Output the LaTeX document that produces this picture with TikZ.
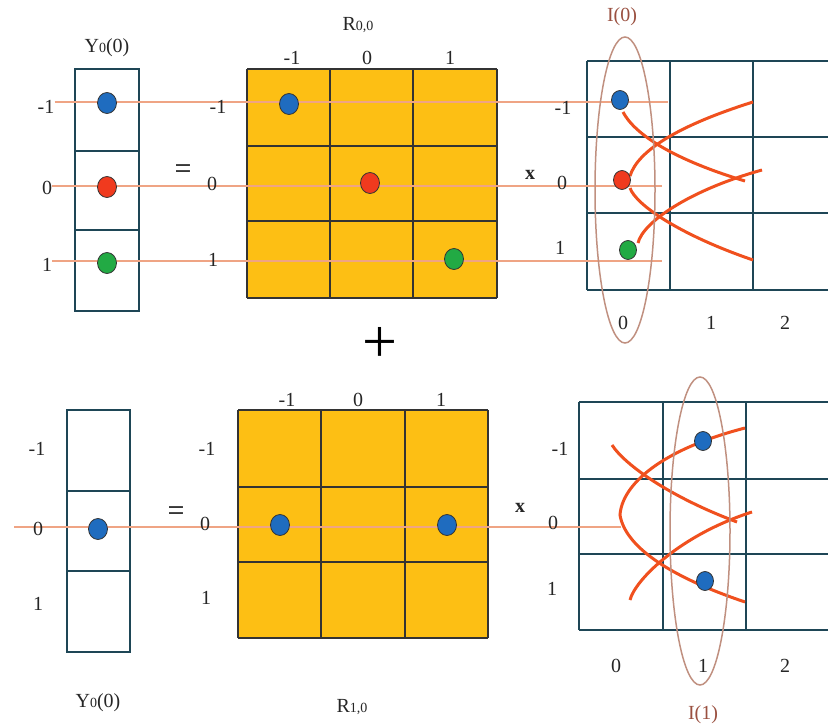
\documentclass[tikz,border=0pt]{standalone}
\usepackage{fontspec}
\setmainfont{Liberation Serif}
\usetikzlibrary{shapes.geometric}
\definecolor{gold}{HTML}{FDBF14}
\definecolor{salmon}{HTML}{EFA484}
\definecolor{curvec}{HTML}{F0501E}
\definecolor{gridc}{HTML}{1E4656}
\definecolor{ellc}{HTML}{C09080}
\definecolor{dblue}{HTML}{1F6CBF}
\definecolor{dred}{HTML}{F03A1E}
\definecolor{dgreen}{HTML}{22AA44}
\definecolor{lblc}{HTML}{9A5040}
\newcommand{\smallsub}[1]{{\fontsize{14}{14}\selectfont #1}}
\begin{document}
\begin{tikzpicture}[x=1pt,y=-1pt,
 lab/.style={font=\fontsize{20}{22}\selectfont, inner sep=0pt, text=black!85},
 dotn/.style={ellipse, draw=black!80, line width=0.8pt, minimum width=19pt, minimum height=21pt, inner sep=0pt},
 sdot/.style={dotn, minimum width=17pt, minimum height=19pt},
 hline/.style={salmon, line width=2pt},
 crv/.style={curvec, line width=3pt},
 gl/.style={gridc, line width=1.5pt},
 ml/.style={black!80, line width=1.2pt},
 ell/.style={ellc, line width=1.5pt}]
\useasboundingbox (0,0) rectangle (828,728);

% ================= TOP =================
\draw[gl] (75,69) rectangle (139,311);
\draw[gl] (75,151) -- (139,151);
\draw[gl] (75,230) -- (139,230);
\node[lab] (ty) at (107,48) {Y\smallsub{0}(0)};
\node[lab] (tl1) at (46,107) {-1};
\node[lab] (tl2) at (47,188) {0};
\node[lab] (tl3) at (47,265) {1};
\fill[gold] (247,69) rectangle (497,298);
\foreach \xx in {247,330,413,497} \draw[ml] (\xx,69) -- (\xx,298);
\foreach \yy in {69,146,221,298} \draw[ml] (247,\yy) -- (497,\yy);
\node[lab] (tr) at (358,25) {R\smallsub{0,0}};
\node[lab] (tc1) at (292,58) {-1};
\node[lab] (tc2) at (367,58) {0};
\node[lab] (tc3) at (450,58) {1};
\foreach \xx in {587,670,753} \draw[gl] (\xx,61) -- (\xx,290);
\foreach \yy in {61,137,213,290} \draw[gl] (587,\yy) -- (828,\yy);
\coordinate (te1) at (668,102);
\coordinate (te2) at (662,186);
\coordinate (te3) at (662,261);
\draw[hline] (tl1.east |- te1) -- (te1);
\draw[hline] (tl2.east |- te2) -- (te2);
\draw[hline] (tl3.east |- te3) -- (te3);
\node[lab] (tm1) at (218,107) {-1};
\node[lab] (tm2) at (212,184) {0};
\node[lab] (tm3) at (213,260) {1};
\node[font=\fontsize{30}{30}\selectfont, inner sep=0pt] (teq) at (183,172) {=};
\node[lab, font=\fontsize{20}{22}\selectfont\bfseries] (tx) at (530,175) {x};
\node[lab] (tg1) at (563,108) {-1};
\node[lab] (tg2) at (562,183) {0};
\node[lab] (tg3) at (560,248) {1};
\node[lab] (tb0) at (623,323) {0};
\node[lab] (tb1) at (711,323) {1};
\node[lab] (tb2) at (785,323) {2};
\draw[crv] (623,112) .. controls (635,135) and (675,160) .. (745,181);
\draw[crv] (630,176) .. controls (638,150) and (680,125) .. (753,102);
\draw[crv] (630,188) .. controls (636,205) and (680,235) .. (753,260);
\draw[crv] (638,243) .. controls (643,222) and (690,190) .. (762,170);
\draw[ell] (625,190) ellipse [x radius=30pt, y radius=153pt];
\node[lab, text=lblc] (ti) at (622,17) {I(0)};
\node[dotn, fill=dblue] (ya) at (107,103) {};
\node[dotn, fill=dred] (yb) at (107,187) {};
\node[dotn, fill=dgreen] (yc) at (107,263) {};
\node[dotn, fill=dblue] (ma) at (289,104) {};
\node[dotn, fill=dred] (mb) at (370,183) {};
\node[dotn, fill=dgreen] (mc) at (454,259) {};
\node[sdot, fill=dblue] (ga) at (620,100) {};
\node[sdot, fill=dred] (gb) at (622,180) {};
\node[sdot, fill=dgreen] (gc) at (628,250) {};

\node[font=\fontsize{62}{62}\selectfont, inner sep=0pt] (plus) at (380,345) {+};

% ================= BOTTOM =================
\draw[gl] (67,410) rectangle (130,652);
\draw[gl] (67,491) -- (130,491);
\draw[gl] (67,571) -- (130,571);
\fill[gold] (238,410) rectangle (488,638);
\foreach \xx in {238,321,405,488} \draw[ml] (\xx,410) -- (\xx,638);
\foreach \yy in {410,487,562,638} \draw[ml] (238,\yy) -- (488,\yy);
\foreach \xx in {579,663,746} \draw[gl] (\xx,402) -- (\xx,630);
\foreach \yy in {402,479,554,630} \draw[gl] (579,\yy) -- (828,\yy);
\coordinate (bs) at (14,527);
\coordinate (be) at (621,527);
\draw[hline] (bs) -- (be);
\node[lab] (bl1) at (37,449) {-1};
\node[lab] (bl2) at (38,529) {0};
\node[lab] (bl3) at (38,604) {1};
\node[lab] (by) at (98,703) {Y\smallsub{0}(0)};
\node[font=\fontsize{30}{30}\selectfont, inner sep=0pt] (beq) at (176,514) {=};
\node[lab] (bm1) at (207,449) {-1};
\node[lab] (bm2) at (205,524) {0};
\node[lab] (bm3) at (206,598) {1};
\node[lab] (bc1) at (287,400) {-1};
\node[lab] (bc2) at (358,400) {0};
\node[lab] (bc3) at (441,400) {1};
\node[lab] (br) at (352,707) {R\smallsub{1,0}};
\node[lab, font=\fontsize{20}{22}\selectfont\bfseries] (bx) at (520,508) {x};
\node[lab] (bg1) at (560,449) {-1};
\node[lab] (bg2) at (553,523) {0};
\node[lab] (bg3) at (552,589) {1};
\node[lab] (bb0) at (616,666) {0};
\node[lab] (bb1) at (703,666) {1};
\node[lab] (bb2) at (785,666) {2};
\draw[crv] (612,445) .. controls (625,465) and (670,497) .. (737,522);
\draw[crv] (745,428) .. controls (660,450) and (622,485) .. (620,515) .. controls (625,545) and (665,575) .. (745,602);
\draw[crv] (630,600) .. controls (635,580) and (680,535) .. (752,512);
\draw[ell] (700,531) ellipse [x radius=30pt, y radius=154pt];
\node[lab, text=lblc] (bi) at (703,715) {I(1)};
\node[dotn, fill=dblue] (yd) at (98,529) {};
\node[dotn, fill=dblue] (md) at (280,525) {};
\node[dotn, fill=dblue] (me) at (447,525) {};
\node[sdot, fill=dblue] (gd) at (703,441) {};
\node[sdot, fill=dblue] (ge) at (705,581) {};
\end{tikzpicture}
\end{document}
